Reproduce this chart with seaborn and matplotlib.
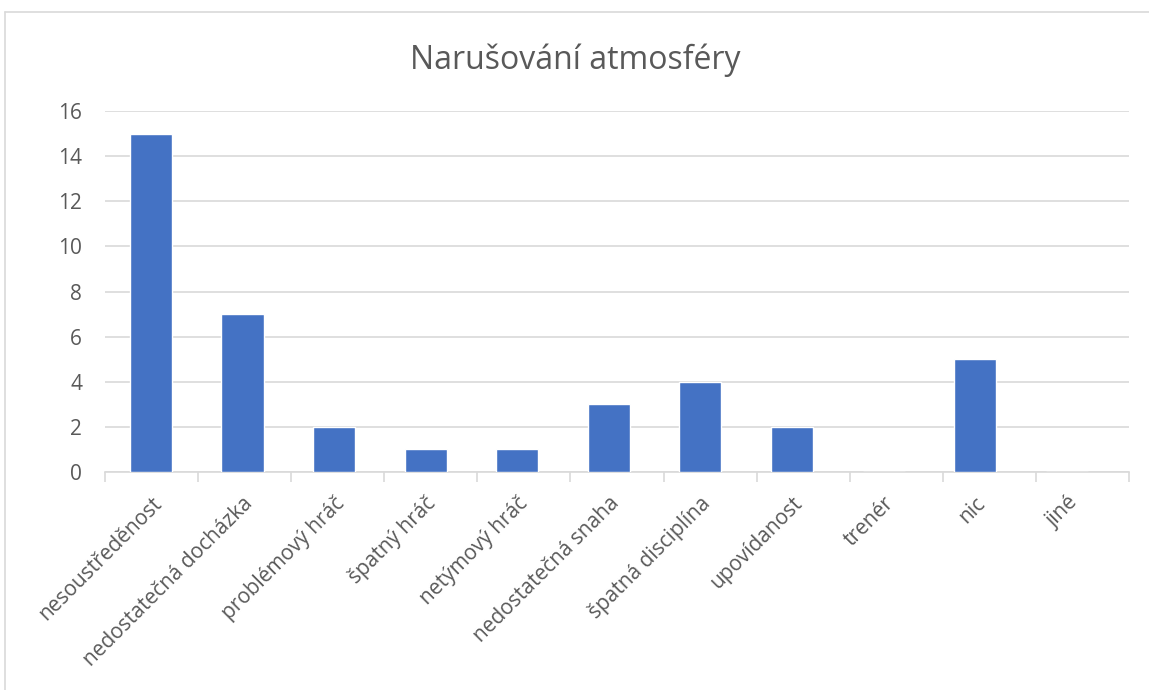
import matplotlib.pyplot as plt
import seaborn as sns
from matplotlib.lines import Line2D

categories = [
    'nesoustředěnost', 'nedostatečná docházka', 'problémový hráč',
    'špatný hráč', 'netýmový hráč', 'nedostatečná snaha',
    'špatná disciplína', 'upovídanost', 'trenér', 'nic', 'jiné',
]
counts = [15, 7, 2, 1, 1, 3, 4, 2, 0, 5, 0]
y_ticks = [0, 2, 4, 6, 8, 10, 12, 14, 16]

sns.set_theme(style='white')
plt.rcParams['font.family'] = ['Open Sans', 'DejaVu Sans']

fig = plt.figure(figsize=(11.49, 6.9), dpi=100)
ax = fig.add_axes([105 / 1149, 1 - 472 / 690, (1129 - 105) / 1149, (472 - 111) / 690])

sns.barplot(x=categories, y=counts, color='#4472C4', width=0.46,
            saturation=1, ax=ax, zorder=3)

# the source picture has its category ticks spaced slightly wider than the bars
n = len(categories)
x_left, x_right = -0.502, 10.68
tick_step = (x_right - x_left) / n
ax.set_xlim(x_left, x_right)
ax.set_ylim(0, 16)
ax.set_yticks(y_ticks)
ax.yaxis.grid(True, color='#D9D9D9', linewidth=1.2, zorder=0)
ax.set_axisbelow(True)

for s in ['left', 'right', 'top']:
    ax.spines[s].set_visible(False)
ax.spines['bottom'].set_color('#D9D9D9')
ax.spines['bottom'].set_linewidth(1.2)

ax.tick_params(axis='y', length=0, labelsize=15, labelcolor='#595959', pad=16.5)
ax.set_xticks(range(n))
ax.set_xticklabels(categories, rotation=45, ha='right', rotation_mode='anchor',
                   fontsize=15, color='#595959')
ax.tick_params(axis='x', which='major', length=0, pad=15)
ax.set_xticks([x_left + k * tick_step for k in range(n + 1)], minor=True)
ax.tick_params(axis='x', which='minor', length=7, width=1.2, color='#D9D9D9',
               direction='out', bottom=True)
ax.set_xlabel('')
ax.set_ylabel('')

fig.text(575 / 1149, 1 - 60 / 690, 'Narušování atmosféry', ha='center',
         va='center', fontsize=23, color='#595959')

# chart frame
fig.add_artist(Line2D([5 / 1149, 5 / 1149], [0, 1 - 12 / 690],
                      transform=fig.transFigure, color='#D9D9D9', lw=1.2))
fig.add_artist(Line2D([5 / 1149, 1], [1 - 12 / 690, 1 - 12 / 690],
                      transform=fig.transFigure, color='#D9D9D9', lw=1.2))

fig.savefig('out.png', dpi=100)
